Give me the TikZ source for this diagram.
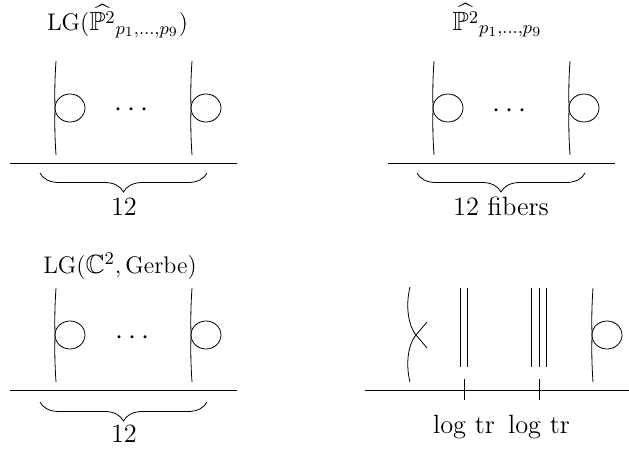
\documentclass[tikz,border=0pt]{standalone}
\usepackage{amsmath,amssymb}
\usetikzlibrary{decorations.pathreplacing}

\tikzset{
  loopfiber/.pic={
    \draw (1,47) to[bend right=2.5] (0,0) to[bend right=2.5] (1,-47);
    \draw (15,0) ellipse[x radius=15, y radius=14];
  },
  fiberbrace/.style={decorate, decoration={brace, mirror, amplitude=9.5pt}},
  txt/.style={anchor=base, inner sep=0pt},
  dotsnode/.style={font=\Large, inner sep=0pt}
}

\begin{document}
\begin{tikzpicture}[x=0.5pt, y=0.5pt, font=\fontsize{13.2}{16}\selectfont]
    \useasboundingbox (0,0) rectangle (629,452);

    % LG of the blow-up
    \node[txt] (lgblow) at (117.5,421.5) {$\mathrm{LG}(\widehat{\mathbb{P}^2}_{p_1,\dots,p_9})$};
    \draw (10,289) -- (237,289);
    \pic at (55,344) {loopfiber};
    \pic at (191,344) {loopfiber};
    \node[dotsnode] (dotsA) at (134,342) {$\cdots$};
    \draw[fiberbrace] (40,279) -- (207,279);
    \node[txt] (numA) at (124,237) {12};

    % the blow-up itself
    \node[txt] (blow) at (497.5,422) {$\widehat{\mathbb{P}^2}_{p_1,\dots,p_9}$};
    \draw (388,289) -- (615,289);
    \pic at (433,344) {loopfiber};
    \pic at (569,344) {loopfiber};
    \node[dotsnode] (dotsB) at (512,341) {$\cdots$};
    \draw[fiberbrace] (417,279) -- (585,279);
    \node[txt] (numB) at (501,237) {12 fibers};

    % LG with gerbe
    \node[txt] (lggerbe) at (120,179) {$\mathrm{LG}(\mathbb{C}^2,\mathrm{Gerbe})$};
    \draw (10,62) -- (237,62);
    \pic at (55,117) {loopfiber};
    \pic at (191,117) {loopfiber};
    \node[dotsnode] (dotsC) at (135,114) {$\cdots$};
    \draw[fiberbrace] (40,50) -- (207,50);
    \node[txt] (numC) at (124,10) {12};

    % degenerate fibres
    \draw (365,62) -- (629,62);
    \draw (410,165) .. controls (405,145) and (409,125) .. (416,117) -- (427,104);
    \draw (410,70) .. controls (405,90) and (409,109) .. (416,117) -- (427,130);
    \foreach \x in {460.5,467.5} \draw (\x,164) -- (\x,85);
    \foreach \x in {531.5,539,546.5} \draw (\x,164) -- (\x,85);
    \pic at (592,117) {loopfiber};
    \coordinate (tickA) at (464,62);
    \coordinate (tickB) at (539,62);
    \draw ([yshift=5.5pt]tickA) -- ([yshift=-5pt]tickA);
    \draw ([yshift=5.5pt]tickB) -- ([yshift=-5pt]tickB);
    \node[txt] (logA) at (464,19) {log tr};
    \node[txt] (logB) at (539,19) {log tr};
\end{tikzpicture}
\end{document}
